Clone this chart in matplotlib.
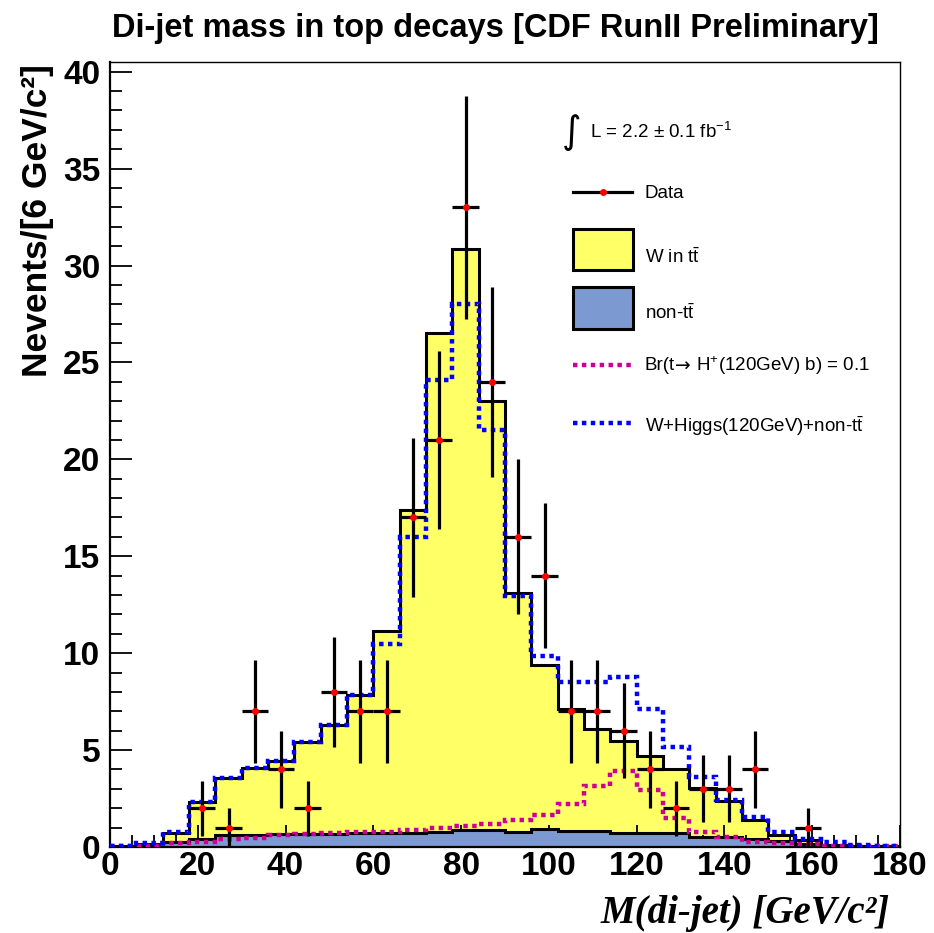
import numpy as np
import matplotlib
matplotlib.use("Agg")
import matplotlib.pyplot as plt
from matplotlib.patches import Rectangle
from matplotlib.lines import Line2D
from matplotlib.ticker import MultipleLocator

plt.rcParams["mathtext.fontset"] = "custom"
plt.rcParams["mathtext.rm"] = "Liberation Sans"
plt.rcParams["mathtext.it"] = "Liberation Sans:italic"
plt.rcParams["mathtext.bf"] = "Liberation Sans:bold"

# ---------------- data ----------------
bin_edges = [0, 6, 12, 18, 24, 30, 36, 42, 48, 54, 60, 66, 72, 78, 84, 90,
             96, 102, 108, 114, 120, 126, 132, 138, 144, 150, 156, 162, 168, 174, 180]

non_ttbar = [0.02, 0.08, 0.25, 0.40, 0.60, 0.62, 0.65, 0.65, 0.68, 0.70,
             0.70, 0.70, 0.78, 0.88, 0.88, 0.76, 0.91, 0.80, 0.80, 0.70,
             0.70, 0.72, 0.50, 0.50, 0.40, 0.30, 0.15, 0.10, 0.05, 0.03]

w_in_ttbar = [0.03, 0.07, 0.45, 1.90, 2.95, 3.45, 3.80, 4.78, 5.62, 7.15,
              10.45, 16.70, 25.72, 29.98, 22.12, 12.34, 8.47, 6.31, 5.28, 4.75,
              4.01, 3.30, 2.54, 1.89, 1.00, 0.30, 0.20, 0.00, 0.00, 0.00]

higgs_br01 = [0.03, 0.05, 0.20, 0.25, 0.40, 0.45, 0.60, 0.65, 0.70, 0.75,
              0.75, 0.90, 1.00, 1.10, 1.20, 1.37, 1.65, 2.22, 3.14, 3.93,
              2.94, 1.50, 0.78, 0.50, 0.27, 0.22, 0.15, 0.06, 0.04, 0.03]

w_higgs_nontt = [0.05, 0.20, 0.75, 2.33, 3.55, 4.07, 4.45, 5.43, 6.30, 7.85,
                 10.46, 16.00, 24.10, 28.00, 21.50, 12.95, 9.86, 8.50, 8.50, 8.75,
                 7.10, 5.14, 3.60, 2.45, 1.55, 0.78, 0.43, 0.24, 0.10, 0.05]

data_counts = [0, 0, 0, 2, 1, 7, 4, 2, 8, 7,
               7, 17, 21, 33, 24, 16, 14, 7, 7, 6,
               4, 2, 3, 3, 4, 0, 1, 0, 0, 0]

# ---------------- figure ----------------
fig = plt.figure(figsize=(9.34, 9.33), dpi=100)
ax = fig.add_axes([110/934, 1-847/933, 790/934, 785/933])

edges = np.array(bin_edges, dtype=float)
nontt = np.array(non_ttbar)
stack_total = nontt + np.array(w_in_ttbar)

yellow = "#FFFF66"
nontt_col = "#7D99D1"
magenta = "#CC0099"
blue = "#0000FF"

ax.stairs(stack_total, edges, fill=True, facecolor=yellow, edgecolor="none", zorder=1)
ax.stairs(stack_total, edges, fill=False, edgecolor="black", linewidth=2.2, baseline=0, zorder=1.5)
ax.stairs(nontt, edges, fill=True, facecolor=nontt_col, edgecolor="none", zorder=2)
ax.stairs(nontt, edges, fill=False, edgecolor="black", linewidth=2.2, baseline=0, zorder=2.5)
ax.stairs(higgs_br01, edges, fill=False, edgecolor=magenta, linewidth=3.2,
          linestyle=(0, (1.0, 1.0)), baseline=None, zorder=3)
ax.stairs(w_higgs_nontt, edges, fill=False, edgecolor=blue, linewidth=3.2,
          linestyle=(0, (1.0, 1.0)), baseline=None, zorder=4)

centers = 0.5 * (edges[:-1] + edges[1:])
counts = np.array(data_counts, dtype=float)
m = counts > 0
ax.errorbar(centers[m], counts[m], yerr=np.sqrt(counts[m]), xerr=3.0,
            fmt="o", color="red", markersize=5, markeredgewidth=0,
            ecolor="black", elinewidth=2.3, capsize=0, zorder=5)

ax.set_xlim(0, 180)
ax.set_ylim(0, 40.5)
ax.xaxis.set_major_locator(MultipleLocator(20))
ax.xaxis.set_minor_locator(MultipleLocator(5))
ax.yaxis.set_major_locator(MultipleLocator(5))
ax.yaxis.set_minor_locator(MultipleLocator(1))
ax.tick_params(which="both", direction="in", top=False, right=False)
ax.tick_params(which="major", length=15.5, width=1.3)
ax.tick_params(axis="y", which="major", pad=7)
ax.tick_params(axis="x", which="major", pad=3)
ax.tick_params(which="minor", length=8.5, width=1.3)
for lab in ax.get_xticklabels() + ax.get_yticklabels():
    lab.set_fontweight("bold")
    lab.set_fontsize(24)
    lab.set_fontfamily("Liberation Sans")
for s in ["left", "bottom"]:
    ax.spines[s].set_linewidth(1.6)
for s in ["top", "right"]:
    ax.spines[s].set_linewidth(1.0)

# ---------------- legend (manual, axes coords) ----------------
T = ax.transAxes
def fx(px):
    return (px - 110) / 790.0
def fy(py):
    return (847 - py) / 785.0

lfs = 13.5
ax.text(fx(572), fy(133), "∫", transform=T, fontsize=27, ha="center", va="center",
        family="DejaVu Sans")
ax.text(fx(590), fy(132), r"L = 2.2 $\pm$ 0.1 fb$^{-1}$", transform=T, fontsize=lfs,
        ha="left", va="center", family="Liberation Sans")

ax.add_line(Line2D([fx(573), fx(632)], [fy(192), fy(192)], transform=T, color="black", lw=2.3))
ax.add_line(Line2D([fx(603)], [fy(192)], transform=T, marker="o", color="red",
                   markersize=5, markeredgewidth=0))
ax.text(fx(645), fy(194), "Data", transform=T, fontsize=lfs, ha="left", va="center",
        family="Liberation Sans")

ax.add_patch(Rectangle((fx(573), fy(270)), 60/790, 41/785, transform=T,
                       facecolor=yellow, edgecolor="black", lw=2.2, zorder=6))
ax.text(fx(645), fy(257), r"W in t$\bar{\mathrm{t}}$", transform=T, fontsize=lfs,
        ha="left", va="center", family="Liberation Sans")

ax.add_patch(Rectangle((fx(573), fy(329)), 60/790, 42/785, transform=T,
                       facecolor=nontt_col, edgecolor="black", lw=2.2, zorder=6))
ax.text(fx(645), fy(313), r"non-t$\bar{\mathrm{t}}$", transform=T, fontsize=lfs,
        ha="left", va="center", family="Liberation Sans")

ax.add_line(Line2D([fx(573), fx(631)], [fy(365), fy(365)], transform=T, color=magenta,
                   lw=3.2, linestyle=(0, (1.0, 1.0))))
# label built in three pieces so the arrow uses a font that draws it clearly
t1 = ax.text(fx(645), fy(366), "Br(t", transform=T, fontsize=lfs, ha="left",
             va="center", family="Liberation Sans")
fig.canvas.draw()
r = fig.canvas.get_renderer()
bb = t1.get_window_extent(renderer=r).transformed(T.inverted())
t2 = ax.text(bb.x1, fy(366), "\u2192", transform=T, fontsize=lfs, ha="left",
             va="center", family="DejaVu Sans")
bb2 = t2.get_window_extent(renderer=r).transformed(T.inverted())
ax.text(bb2.x1, fy(366), r" H$^{+}$(120GeV) b) = 0.1", transform=T,
        fontsize=lfs, ha="left", va="center", family="Liberation Sans")

ax.add_line(Line2D([fx(573), fx(631)], [fy(423), fy(423)], transform=T, color=blue,
                   lw=3.2, linestyle=(0, (1.0, 1.0))))
ax.text(fx(645), fy(426), r"W+Higgs(120GeV)+non-t$\bar{\mathrm{t}}$", transform=T,
        fontsize=lfs, ha="left", va="center", family="Liberation Sans")

# ---------------- titles ----------------
fig.text(495/934, 1 - 28/933, "Di-jet mass in top decays [CDF RunII Preliminary]",
         ha="center", va="center", fontsize=23.5, fontweight="bold",
         family="Liberation Sans")
fig.text(38/934, 1 - 64/933, "Nevents/[6 GeV/c²]", rotation=90, ha="center", va="top",
         fontsize=25.5, fontweight="bold", family="Liberation Sans")
fig.text(890/934, 1 - 913/933, "M(di-jet) [GeV/c²]", ha="right", va="center",
         fontsize=28, fontweight="bold", fontstyle="italic", family="Liberation Serif")

fig.savefig("out.png", dpi=100)
